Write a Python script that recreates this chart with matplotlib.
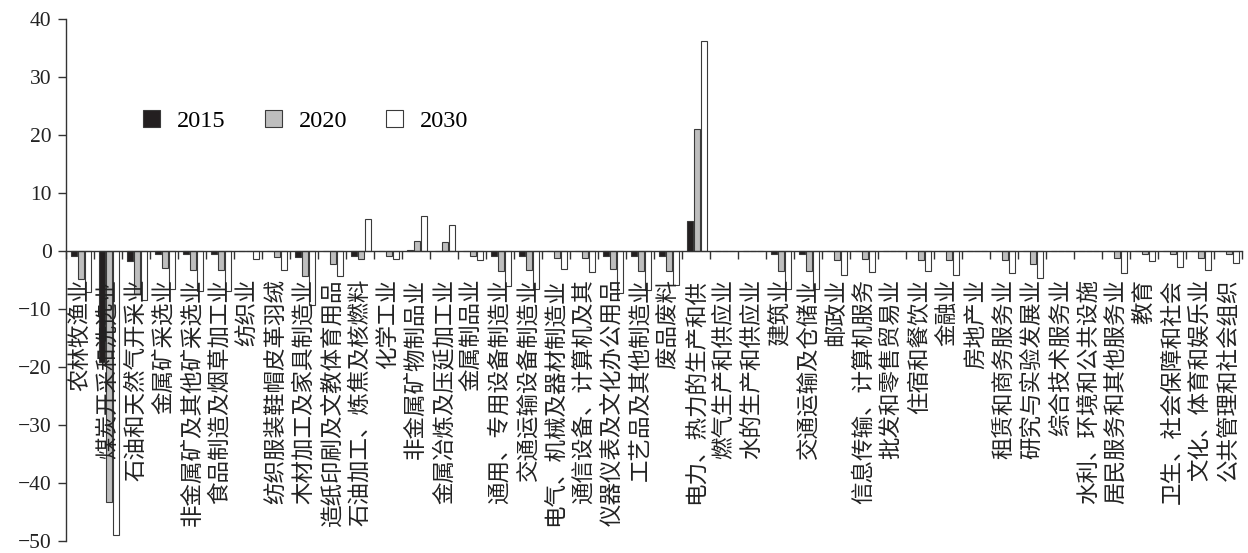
import matplotlib
matplotlib.use("Agg")
import matplotlib.pyplot as plt
import numpy as np
from matplotlib.ticker import FixedLocator

categories = [
    "农林牧渔业", "煤炭开采和洗选业", "石油和天然气开采业", "金属矿采选业",
    "非金属矿及其他矿采选业", "食品制造及烟草加工业", "纺织业", "纺织服装鞋帽皮革羽绒",
    "木材加工及家具制造业", "造纸印刷及文教体育用品", "石油加工、炼焦及核燃料", "化学工业",
    "非金属矿物制品业", "金属冶炼及压延加工业", "金属制品业", "通用、专用设备制造业",
    "交通运输设备制造业", "电气、机械及器材制造业", "通信设备、计算机及其", "仪器仪表及文化办公用品",
    "工艺品及其他制造业", "废品废料", "电力、热力的生产和供", "燃气生产和供应业",
    "水的生产和供应业", "建筑业", "交通运输及仓储业", "邮政业",
    "信息传输、计算机服务", "批发和零售贸易业", "住宿和餐饮业", "金融业",
    "房地产业", "租赁和商务服务业", "研究与实验发展业", "综合技术服务业",
    "水利、环境和公共设施", "居民服务和其他服务业", "教育", "卫生、社会保障和社会",
    "文化、体育和娱乐业", "公共管理和社会组织",
]

v2015 = [-0.9, -19.1, -1.8, -0.6, -0.6, -0.6, 0, 0, -1.0, 0,
         -0.9, 0, 0.2, 0, 0, -0.9, -0.9, 0, 0, -0.8,
         -0.8, -0.8, 5.1, 0, 0, -0.6, -0.6, 0, 0, 0,
         0, 0, 0, 0, 0, 0, 0, 0, 0, 0, 0, 0]
v2020 = [-4.8, -43.3, -7.4, -2.9, -3.2, -3.2, 0, -1.0, -4.3, -2.2,
         -1.3, -0.8, 1.8, 1.5, -0.9, -3.5, -3.3, -1.2, -1.2, -3.1,
         -3.5, -3.4, 21.1, 0, 0, -3.4, -3.5, -1.6, -1.4, 0,
         -1.6, -1.6, 0, -1.6, -2.3, 0, 0, -1.2, -0.6, -0.45, -1.2, -0.6]
v2030 = [-7.0, -49.0, -8.5, -6.6, -6.9, -6.9, -1.3, -3.2, -9.3, -4.3,
         5.6, -1.3, 6.1, 4.5, -1.5, -6.0, -6.5, -3.1, -3.6, -7.2,
         -6.8, -5.8, 36.2, 0, 0, -6.6, -6.6, -4.2, -3.6, 0,
         -3.5, -4.2, 0, -3.75, -4.6, 0, 0, -3.75, -1.8, -2.7, -3.2, -2.05]

series_names = ["2015", "2020", "2030"]
yticks = [40, 30, 20, 10, 0, -10, -20, -30, -40, -50]

serif = ["Liberation Serif", "DejaVu Serif"]
cjk = ["Noto Sans CJK SC", "DejaVu Sans"]

top_px, bot_px = 19, 541
fig = plt.figure(figsize=(12.48, 5.53), dpi=100)
ax = fig.add_axes([65.5 / 1248, 1 - bot_px / 553, (1242 - 65.5) / 1248, (bot_px - top_px) / 553])

x = np.arange(len(categories))
w = 0.22
shift = 0.05
colors = ["#231f20", "#bebebe", "#ffffff"]
for vals, off, c, name in zip([v2015, v2020, v2030], [-0.25, 0, 0.25], colors, series_names):
    ax.bar(x + off + shift, vals, width=w, color=c, edgecolor="#3a3a3a",
           linewidth=0.8, label=name, zorder=1)

ax.set_xlim(-0.5, len(categories) - 0.5)
ax.set_ylim(-50, 40)

ax.spines["top"].set_visible(False)
ax.spines["right"].set_visible(False)
ax.spines["bottom"].set_position(("data", 0))
for s in ("left", "bottom"):
    ax.spines[s].set_linewidth(1.0)
    ax.spines[s].set_color("#333333")

ax.set_yticks(yticks)
ax.set_yticklabels([("\u2212" + str(-t)) if t < 0 else str(t) for t in yticks],
                   fontfamily=serif, fontsize=15.5, color="#222222")
ax.tick_params(axis="y", direction="out", length=6, width=1.0, color="#333333", pad=4)

ax.set_xticks(x)
ax.set_xticklabels(categories, rotation=90, ha="center", va="top",
                   fontfamily=cjk, fontsize=16.2, color="#222222")
ax.tick_params(axis="x", which="major", length=0, pad=20)
ax.xaxis.set_minor_locator(FixedLocator(np.arange(-0.5, len(categories), 1.0)))
ax.tick_params(axis="x", which="minor", direction="out", length=6, width=1.0, color="#333333")

leg = ax.legend(loc="center left", bbox_to_anchor=(143 / 1248, 1 - 121 / 553),
                bbox_transform=fig.transFigure, ncol=3, frameon=False,
                prop={"family": serif, "size": 17.5}, handlelength=0.7, handleheight=0.7,
                handletextpad=0.7, columnspacing=1.6, borderaxespad=0, borderpad=0)

fig.savefig("out.png", dpi=100)
